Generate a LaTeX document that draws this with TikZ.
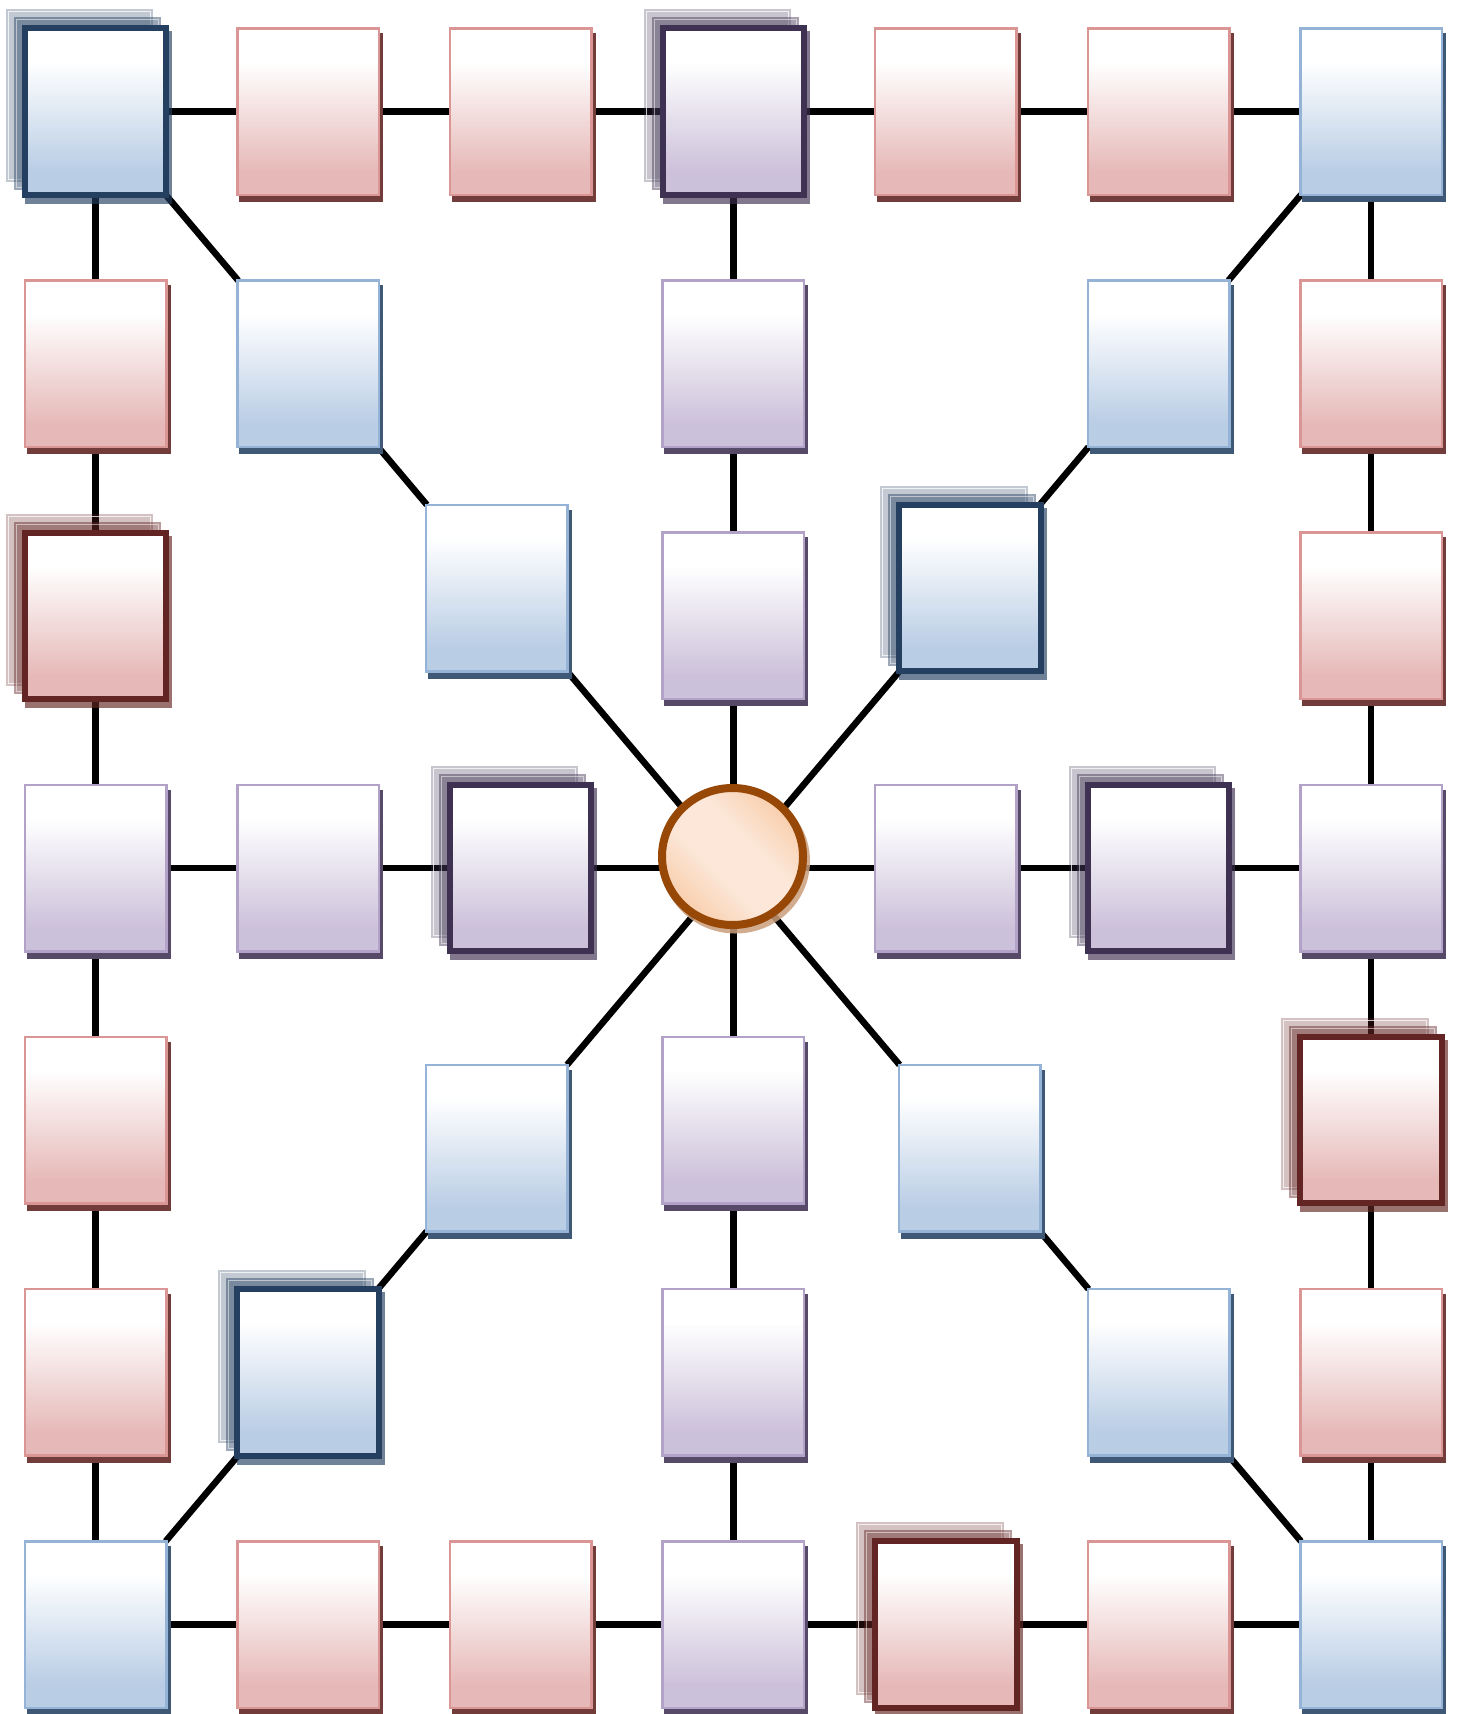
\documentclass[tikz,border=0pt]{standalone}
\usetikzlibrary{shapes.geometric}
\pgfdeclarelayer{bg}
\pgfdeclarelayer{shad}
\pgfsetlayers{bg,shad,main}
\definecolor{redfill}{HTML}{E6B9B8}
\definecolor{redline}{HTML}{D99694}
\definecolor{redshadow}{HTML}{713C3A}
\definecolor{redthick}{HTML}{632523}
\definecolor{bluefill}{HTML}{B9CDE5}
\definecolor{blueline}{HTML}{95B3D7}
\definecolor{blueshadow}{HTML}{3F5875}
\definecolor{bluethick}{HTML}{243F60}
\definecolor{purplefill}{HTML}{CCC1DA}
\definecolor{purpleline}{HTML}{B3A2C7}
\definecolor{purpleshadow}{HTML}{564A68}
\definecolor{purplethick}{HTML}{3F3151}
\definecolor{hubline}{HTML}{974806}
\definecolor{hublight}{HTML}{FCE7D8}
\definecolor{hubdark}{HTML}{F8C9A4}
\definecolor{hubshadow}{HTML}{C99E7C}
\pgfdeclareverticalshading{shred}{100bp}{color(0bp)=(redfill); color(32bp)=(redfill); color(65bp)=(white); color(100bp)=(white)}
\pgfdeclareverticalshading{shblue}{100bp}{color(0bp)=(bluefill); color(32bp)=(bluefill); color(65bp)=(white); color(100bp)=(white)}
\pgfdeclareverticalshading{shpurple}{100bp}{color(0bp)=(purplefill); color(32bp)=(purplefill); color(65bp)=(white); color(100bp)=(white)}
\pgfdeclarehorizontalshading{shhub}{100bp}{color(0bp)=(hubdark); color(22bp)=(hubdark); color(42bp)=(hublight); color(58bp)=(hublight); color(78bp)=(hubdark); color(100bp)=(hubdark)}
% shadow of a plain box
\newcommand{\bshad}[2]{\fill[#2] ([shift={(1.75,7.25)}]#1.south west) rectangle ([shift={(4.25,4.75)}]#1.north east);}
% stacked copies and shadow of a thick box
\newcommand{\tcopies}[2]{%
  \fill[#2, opacity=0.28] ([shift={(-19,-13)}]#1.south west) rectangle ([shift={(-13,-19)}]#1.north east);
  \draw[white, line width=1pt, opacity=0.75] ([shift={(-16.5,-15.5)}]#1.south west) rectangle ([shift={(-15.5,-16.5)}]#1.north east);
  \fill[#2, opacity=0.45] ([shift={(-11,-5)}]#1.south west) rectangle ([shift={(-5,-11)}]#1.north east);
  \draw[white, line width=1pt, opacity=0.5] ([shift={(-8.5,-7.5)}]#1.south west) rectangle ([shift={(-7.5,-8.5)}]#1.north east);
  \fill[#2, opacity=0.65] ([shift={(0,9)}]#1.south west) rectangle ([shift={(6,3)}]#1.north east);}
\begin{document}
\begin{tikzpicture}[x=1pt,y=-1pt,
  bx/.style={rectangle, minimum width=141.5pt, minimum height=166.5pt, inner sep=0pt, outer sep=0pt, line width=2.5pt, shade},
  rbox/.style={bx, draw=redline, shading=shred},
  bbox/.style={bx, draw=blueline, shading=shblue},
  pbox/.style={bx, draw=purpleline, shading=shpurple},
  rthick/.style={bx, draw=redthick, shading=shred, line width=6pt},
  bthick/.style={bx, draw=bluethick, shading=shblue, line width=6pt},
  pthick/.style={bx, draw=purplethick, shading=shpurple, line width=6pt},
  hubnode/.style={ellipse, minimum width=141pt, minimum height=137pt, inner sep=0pt, outer sep=0pt, draw=hubline, line width=8pt, shade, shading=shhub, shading angle=45},
  conn/.style={line width=6.5pt, black}]
\useasboundingbox (0,0) rectangle (1461,1714);
% row 0
\node[bthick] (n00) at (95.5,111.5) {};
\node[rbox] (n01) at (308.1,111.5) {};
\node[rbox] (n02) at (520.7,111.5) {};
\node[pthick] (n03) at (733.3,111.5) {};
\node[rbox] (n04) at (945.9,111.5) {};
\node[rbox] (n05) at (1158.5,111.5) {};
\node[bbox] (n06) at (1371.1,111.5) {};
% row 1
\node[rbox] (n10) at (95.5,363.7) {};
\node[bbox] (n11) at (308.1,363.7) {};
\node[pbox] (n13) at (733.3,363.7) {};
\node[bbox] (n15) at (1158.5,363.7) {};
\node[rbox] (n16) at (1371.1,363.7) {};
% row 2
\node[rthick] (n20) at (95.5,615.8) {};
\node[bbox] (d2l) at (496.8,588) {};
\node[pbox] (n23) at (733.3,615.8) {};
\node[bthick] (d2r) at (969.8,588) {};
\node[rbox] (n26) at (1371.1,615.8) {};
% row 3
\node[pbox] (n30) at (95.5,868) {};
\node[pbox] (n31) at (308.1,868) {};
\node[pthick] (n32) at (520.7,868) {};
\node[hubnode] (hub) at (732.5,856.5) {};
\coordinate (hubc) at (733.3,868);
\node[pbox] (n34) at (945.9,868) {};
\node[pthick] (n35) at (1158.5,868) {};
\node[pbox] (n36) at (1371.1,868) {};
% row 4
\node[rbox] (n40) at (95.5,1120.2) {};
\node[bbox] (d4l) at (496.8,1148) {};
\node[pbox] (n43) at (733.3,1120.2) {};
\node[bbox] (d4r) at (969.8,1148) {};
\node[rthick] (n46) at (1371.1,1120.2) {};
% row 5
\node[rbox] (n50) at (95.5,1372.3) {};
\node[bthick] (n51) at (308.1,1372.3) {};
\node[pbox] (n53) at (733.3,1372.3) {};
\node[bbox] (n55) at (1158.5,1372.3) {};
\node[rbox] (n56) at (1371.1,1372.3) {};
% row 6
\node[bbox] (n60) at (95.5,1624.5) {};
\node[rbox] (n61) at (308.1,1624.5) {};
\node[rbox] (n62) at (520.7,1624.5) {};
\node[pbox] (n63) at (733.3,1624.5) {};
\node[rthick] (n64) at (945.9,1624.5) {};
\node[rbox] (n65) at (1158.5,1624.5) {};
\node[bbox] (n66) at (1371.1,1624.5) {};
\begin{pgfonlayer}{shad}
  \tcopies{n00}{bluethick}
  \bshad{n01}{redshadow}
  \bshad{n02}{redshadow}
  \tcopies{n03}{purplethick}
  \bshad{n04}{redshadow}
  \bshad{n05}{redshadow}
  \bshad{n06}{blueshadow}
  \bshad{n10}{redshadow}
  \bshad{n11}{blueshadow}
  \bshad{n13}{purpleshadow}
  \bshad{n15}{blueshadow}
  \bshad{n16}{redshadow}
  \tcopies{n20}{redthick}
  \bshad{d2l}{blueshadow}
  \bshad{n23}{purpleshadow}
  \tcopies{d2r}{bluethick}
  \bshad{n26}{redshadow}
  \bshad{n30}{purpleshadow}
  \bshad{n31}{purpleshadow}
  \tcopies{n32}{purplethick}
  \fill[hubshadow, opacity=0.85] (735.5,861) ellipse [x radius=74.5pt, y radius=72.5pt];
  \bshad{n34}{purpleshadow}
  \tcopies{n35}{purplethick}
  \bshad{n36}{purpleshadow}
  \bshad{n40}{redshadow}
  \bshad{d4l}{blueshadow}
  \bshad{n43}{purpleshadow}
  \bshad{d4r}{blueshadow}
  \tcopies{n46}{redthick}
  \bshad{n50}{redshadow}
  \tcopies{n51}{bluethick}
  \bshad{n53}{purpleshadow}
  \bshad{n55}{blueshadow}
  \bshad{n56}{redshadow}
  \bshad{n60}{blueshadow}
  \bshad{n61}{redshadow}
  \bshad{n62}{redshadow}
  \bshad{n63}{purpleshadow}
  \tcopies{n64}{redthick}
  \bshad{n65}{redshadow}
  \bshad{n66}{blueshadow}
\end{pgfonlayer}
\begin{pgfonlayer}{bg}
  \fill[white] (0,0) rectangle (1461,1714);
  \draw[conn] (n00) -- (n01) -- (n02) -- (n03) -- (n04) -- (n05) -- (n06);
  \draw[conn] (n60) -- (n61) -- (n62) -- (n63) -- (n64) -- (n65) -- (n66);
  \draw[conn] (n00) -- (n10) -- (n20) -- (n30) -- (n40) -- (n50) -- (n60);
  \draw[conn] (n06) -- (n16) -- (n26) -- (n36) -- (n46) -- (n56) -- (n66);
  \draw[conn] (n30) -- (n31) -- (n32) -- (hubc) -- (n34) -- (n35) -- (n36);
  \draw[conn] (n03) -- (n13) -- (n23) -- (hubc) -- (n43) -- (n53) -- (n63);
  \draw[conn] (n00) -- (n11) -- (d2l) -- (hubc);
  \draw[conn] (n06) -- (n15) -- (d2r) -- (hubc);
  \draw[conn] (n60) -- (n51) -- (d4l) -- (hubc);
  \draw[conn] (n66) -- (n55) -- (d4r) -- (hubc);
\end{pgfonlayer}
\end{tikzpicture}
\end{document}
